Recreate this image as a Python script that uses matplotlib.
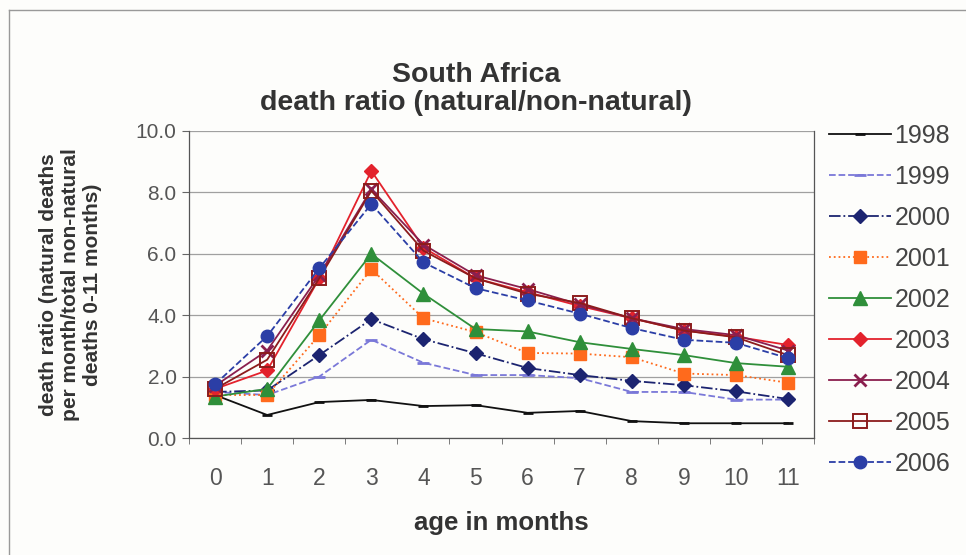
import matplotlib
matplotlib.use("Agg")
import matplotlib.pyplot as plt
import numpy as np

plt.rcParams['font.family'] = ['Liberation Sans', 'DejaVu Sans']

months = list(range(12))
years = ['1998', '1999', '2000', '2001', '2002', '2003', '2004', '2005', '2006']

r1998 = [1.40, 0.75, 1.17, 1.24, 1.04, 1.07, 0.82, 0.88, 0.55, 0.48, 0.48, 0.48]
r1999 = [1.50, 1.40, 2.00, 3.20, 2.45, 2.05, 2.05, 1.95, 1.50, 1.50, 1.25, 1.25]
r2000 = [1.50, 1.55, 2.70, 3.87, 3.22, 2.76, 2.28, 2.05, 1.86, 1.72, 1.52, 1.27]
r2001 = [1.40, 1.40, 3.35, 5.50, 3.90, 3.45, 2.77, 2.75, 2.63, 2.10, 2.05, 1.80]
r2002 = [1.35, 1.60, 3.83, 6.00, 4.70, 3.55, 3.47, 3.12, 2.90, 2.70, 2.44, 2.32]
r2003 = [1.60, 2.20, 5.20, 8.70, 6.20, 5.20, 4.75, 4.30, 3.90, 3.50, 3.30, 3.03]
r2004 = [1.70, 2.85, 5.30, 8.10, 6.30, 5.30, 4.85, 4.35, 3.90, 3.55, 3.35, 2.85]
r2005 = [1.60, 2.55, 5.20, 8.05, 6.10, 5.20, 4.70, 4.40, 3.90, 3.50, 3.28, 2.70]
r2006 = [1.75, 3.32, 5.53, 7.62, 5.72, 4.88, 4.48, 4.05, 3.58, 3.20, 3.10, 2.60]

series = [r1998, r1999, r2000, r2001, r2002, r2003, r2004, r2005, r2006]

# colour, line style, marker, marker size, marker face
styles = [
    ('#111111', '-',  '_', 7, None),
    ('#7a78d8', '--', '_', 9, None),
    ('#1c2470', '-.', 'D', 7.5, None),
    ('#ff6a1c', ':',  's', 8.5, None),
    ('#2f8f3a', '-',  '^', 9.5, None),
    ('#e3222c', '-',  'D', 7.5, None),
    ('#8a1f4e', '-',  'x', 8.5, None),
    ('#8c1c1c', '-',  's', 9.5, 'none'),
    ('#2b3ea6', '--', 'o', 9, None),
]

fig = plt.figure(figsize=(9.66, 5.55), dpi=100, facecolor='#fdfdfb')
ax = fig.add_axes([0.1957, 0.2108, 0.6470, 0.5532])
ax.set_facecolor('#fdfdfb')

for yr, vals, (c, ls, mk, ms, mf) in zip(years, series, styles):
    kw = dict(color=c, linestyle=ls, linewidth=1.3, marker=mk, markersize=ms,
              markeredgecolor=c, label=yr)
    if mk in ('_', 'x'):
        kw['markeredgewidth'] = 2
    if mf is not None:
        kw['markerfacecolor'] = mf
        kw['markeredgewidth'] = 1.4
    ax.plot(months, vals, **kw)

ax.set_xlim(-0.5, 11.5)
ax.set_ylim(0, 10)
ax.set_yticks(np.arange(0, 10.1, 2))
ax.set_yticklabels(['%.1f' % v for v in np.arange(0, 10.1, 2)])
ax.set_xticks(months)
ax.set_xticks(np.arange(-0.5, 11.6, 1), minor=True)
ax.tick_params(axis='x', which='major', length=0, pad=21, labelsize=16.5, labelcolor='#555555')
ax.tick_params(axis='x', which='minor', length=4, direction='out', color='#666666')
ax.tick_params(axis='y', length=5, direction='out', pad=4, labelsize=15,
               labelcolor='#555555', color='#666666')

ax.grid(axis='y', color='#a0a0a0', linewidth=0.9)
ax.set_axisbelow(True)
ax.spines['top'].set_visible(False)
for side in ['left', 'right', 'bottom']:
    ax.spines[side].set_color('#555555')
    ax.spines[side].set_linewidth(0.9)

ax.set_xlabel('age in months', fontsize=18.5, fontweight='bold', color='#333333', labelpad=15)
ax.set_ylabel('death ratio (natural deaths\nper month/total non-natural\ndeaths 0-11 months)',
              fontsize=15, fontweight='bold', color='#333333', labelpad=24, linespacing=1.22)

fig.text(0.4927, 0.864, 'South Africa', ha='center', va='center', fontsize=20.5,
         fontweight='bold', color='#333333')
fig.text(0.4927, 0.815, 'death ratio (natural/non-natural)', ha='center', va='center',
         fontsize=20.5, fontweight='bold', color='#333333')

leg = fig.legend(loc='upper left', bbox_to_anchor=(0.858, 0.777), frameon=False,
                 fontsize=18, labelspacing=0.68, handlelength=2.5, handletextpad=0.12,
                 borderaxespad=0, borderpad=0)
for t in leg.get_texts():
    t.set_color('#444444')

# chart area border (partly visible in the scan)
fig.add_artist(plt.Line2D([0.009, 0.009], [0.0, 0.982], color='#999999', lw=1,
                          transform=fig.transFigure))
fig.add_artist(plt.Line2D([0.009, 1.0], [0.982, 0.982], color='#999999', lw=1,
                          transform=fig.transFigure))

fig.savefig('out.png', dpi=100, facecolor=fig.get_facecolor())
